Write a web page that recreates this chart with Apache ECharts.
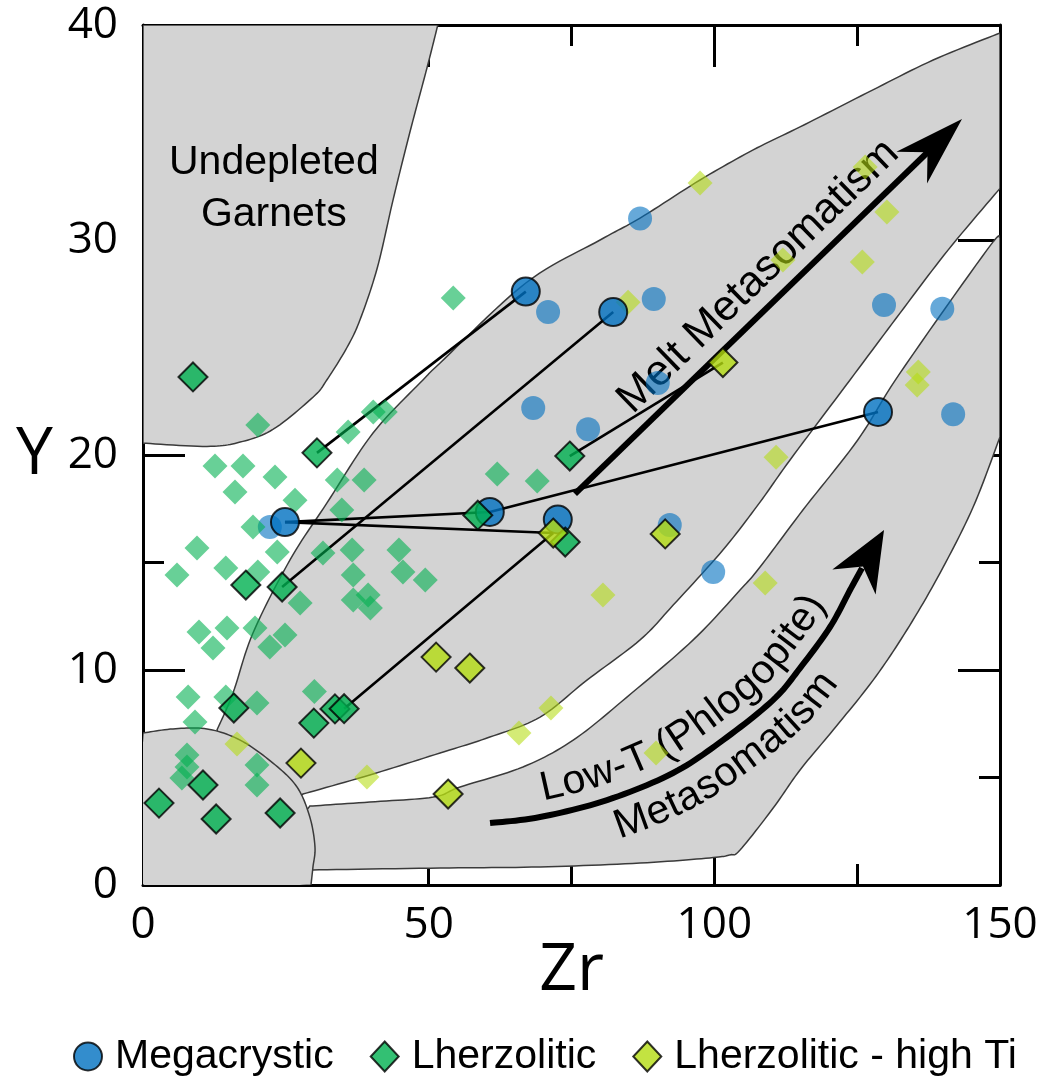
<!DOCTYPE html>
<html>
<head>
<meta charset="utf-8">
<script src="https://cdn.jsdelivr.net/npm/echarts@6.0.0/dist/echarts.min.js"></script>
<style>
html,body{margin:0;padding:0;background:#ffffff;}
#chart{width:1050px;height:1076px;}
</style>
</head>
<body>
<div id="chart"></div>
<script>
// ---------------- DATA (Zr, Y) ----------------
const megaBold = [[67.0,27.6],[82.3,26.65],[24.85,16.88],[60.7,17.35],[72.6,17.0],[128.65,22.0]];
const megaLight = [[87.0,31.0],[70.9,26.65],[89.4,27.26],[68.3,22.19],[77.9,21.2],[90.1,23.35],
  [92.2,16.74],[99.8,14.56],[129.7,26.98],[139.9,26.8],[141.8,21.9],[22.2,16.65]];
const lherzBold = [[8.75,23.63],[30.45,20.1],[74.7,19.95],[58.6,17.2],[73.9,15.95],[18.0,13.95],
  [24.35,13.86],[15.9,8.23],[29.9,7.53],[33.6,8.19],[35.2,8.2],[2.8,3.81],[10.5,4.65],[12.8,3.07],[24.0,3.35]];
const lherzLight = [[54.3,27.3],[20.1,21.4],[12.6,19.49],[17.5,19.49],[23.1,18.98],[16.1,18.28],[26.6,17.9],
  [35.9,21.07],[40.3,22.0],[42.4,22.0],[34.0,18.84],[38.7,18.84],[34.8,17.44],[19.25,16.65],[23.5,15.49],
  [9.45,15.67],[31.5,15.44],[36.6,15.58],[44.8,15.58],[45.5,14.56],[49.4,14.19],[36.8,14.42],[14.5,14.74],
  [5.95,14.42],[20.1,14.56],[27.5,13.12],[36.8,13.26],[39.4,13.49],[39.8,12.88],[9.8,11.77],[14.7,11.95],
  [12.25,11.02],[19.6,11.95],[22.2,11.07],[24.85,11.63],[30.0,9.0],[7.9,8.74],[14.5,8.74],[19.95,8.47],
  [9.1,7.58],[7.7,6.05],[7.7,5.49],[6.8,4.98],[19.95,5.58],[19.95,4.65],[62.0,19.12],[69.0,18.79]];
const hiTiBold = [[101.5,24.3],[71.8,16.37],[91.4,16.33],[51.3,10.6],[57.2,10.09],[27.65,5.67],[53.4,4.23]];
const hiTiLight = [[97.5,32.65],[84.9,27.1],[126.4,33.4],[130.2,31.3],[112.0,29.07],[125.9,28.98],
  [135.7,23.86],[135.5,23.26],[110.8,19.9],[108.9,14.05],[80.5,13.49],[71.4,8.23],[65.8,7.07],
  [89.8,6.14],[16.45,6.56],[39.2,5.02]];

// tie lines: pairs of [set, index]
const tieLines = [
  [['mega',0],['lherz',1]], [['mega',1],['lherz',6]], [['mega',2],['mega',3]],
  [['mega',2],['hiTi',1]], [['mega',3],['mega',5]], [['hiTi',1],['lherz',10]], [['lherz',2],['hiTi',0]]
];

// field outlines (data space); each piece with >2 points is drawn as a smooth curve
const fieldUndepleted = [
  [[0,40],[51.6,40]],
  [[51.6,40],[49.7,38.0],[46.7,35.0],[43.8,31.9],[41.0,28.7],[38.0,26.3],[35.7,25.0],[32.2,23.5],
   [29.8,22.7],[22.8,21.2],[17.0,20.6],[11.2,20.4],[0,20.55]]
];
const fieldMelt = [
  [[12.95,7.21],[15.75,8.93],[19.25,11.72],[25.73,15.12],[32.2,17.77],[40.26,21.02],[49.0,23.49],
   [52.0,24.28],[67.0,28.0],[80.0,30.0],[87.0,31.02],[97.5,32.79],[106.8,34.19],[115.0,35.26],
   [126.7,36.84],[138.3,38.37],[150,39.63]],
  [[150,39.63],[150,32.4]],
  [[150,32.4],[140.9,29.53],[132.5,26.6],[123.75,23.49],[113.25,19.77],[108.0,17.81],[101.5,15.58],
   [92.8,13.02],[87.0,11.4],[77.7,9.53],[69.5,7.81],[60.7,6.88],[52.0,6.14],[39.7,5.12],[28.0,4.23]],
  [[28.0,4.23],[20,3],[12.95,7.21]]
];
const fieldPhlogopite = [
  [[150,30.14],[147.7,29.53],[132.5,23.81],[125.1,20.7],[115.5,17.44],[108.0,14.79],[104.5,13.72],
   [96.3,11.4],[84.7,8.74],[75.3,6.74],[66.5,5.49],[55.5,4.56],[50.8,4.09],[39.7,3.86],[29.2,3.67]],
  [[29.2,3.67],[25,2.0],[29.75,0.70]],
  [[29.75,0.70],[52.0,0.79],[69.5,0.84],[87.0,1.02],[99.2,1.26],[102.7,1.4],[104.5,1.63],[110.3,3.58],
   [115.0,5.35],[120.8,7.21],[127.8,9.53],[133.7,11.86],[139.5,14.51],[145.3,17.58],[150,20.84]],
  [[150,20.84],[150,30.14]]
];
const fieldLowLeft = [
  [[0,7.07],[5.25,7.26],[11.2,7.26],[17.0,6.74],[22.75,5.67],[26.95,4.56],[29.2,3.16],[30.1,1.77],
   [29.75,0.84],[29.4,0]],
  [[29.4,0],[0,0],[0,7.07]]
];
const fields = [fieldUndepleted, fieldMelt, fieldPhlogopite, fieldLowLeft];

// trend arrows (data space); last point is the arrow tip
const meltArrow = [[75.6,18.19],[143.35,35.63]];
const lowTArrow = [[60.74,2.88],[69.49,3.16],[81.22,3.95],[92.77,5.21],[101.52,6.74],[110.27,8.60],
  [115.0,10.09],[120.25,12.0],[123.75,13.72],[125.85,14.74],[129.7,16.51]];

// labels
const undepletedLabel = { text: 'Undepleted\nGarnets', at: [22.9, 32.4] };
const meltLabel = { text: 'Melt Metasomatism', at: [107.7, 28.3] };
const lowTLabelUpper = 'Low-T (Phlogopite)';
const lowTLabelLower = 'Metasomatism';
const legendNames = ['Megacrystic', 'Lherzolitic', 'Lherzolitic - high Ti'];

// ---------------- STYLE ----------------
const SANS = '"Liberation Sans", Arial, sans-serif';
const NUM = '"Open Sans", sans-serif';
const ANN_SIZE = 41;
const FIELD_FILL = '#d3d3d3';
const FIELD_STROKE = '#3a3a3a';
const BLUE = '#0070c0', GREEN = '#00b050', LIME = '#b4dc12';

// ---------------- HELPERS ----------------
function spline(p, n) {
  if (p.length < 3) return p.slice();
  const out = [];
  for (let i = 0; i < p.length - 1; i++) {
    const p0 = p[Math.max(i - 1, 0)], p1 = p[i], p2 = p[i + 1], p3 = p[Math.min(i + 2, p.length - 1)];
    for (let k = 0; k < n; k++) {
      const t = k / n, t2 = t * t, t3 = t2 * t;
      const f = (a, b, c, d) => 0.5 * (2 * b + (-a + c) * t + (2 * a - 5 * b + 4 * c - d) * t2 + (-a + 3 * b - 3 * c + d) * t3);
      out.push([f(p0[0], p1[0], p2[0], p3[0]), f(p0[1], p1[1], p2[1], p3[1])]);
    }
  }
  out.push(p[p.length - 1]);
  return out;
}
function outline(pieces, api) {
  const out = [];
  pieces.forEach(pc => spline(pc.map(q => api.coord(q)), 12).forEach(q => out.push(q)));
  return out;
}
function cumLen(pts) {
  const c = [0];
  for (let i = 1; i < pts.length; i++) c.push(c[i - 1] + Math.hypot(pts[i][0] - pts[i - 1][0], pts[i][1] - pts[i - 1][1]));
  return c;
}
function pointAt(pts, cum, s) {
  let i = 0;
  while (i < pts.length - 2 && cum[i + 1] < s) i++;
  const seg = cum[i + 1] - cum[i] || 1;
  const t = (s - cum[i]) / seg;
  const dx = pts[i + 1][0] - pts[i][0], dy = pts[i + 1][1] - pts[i][1];
  const L = Math.hypot(dx, dy) || 1;
  return { x: pts[i][0] + dx * t, y: pts[i][1] + dy * t, tx: dx / L, ty: dy / L };
}
function offsetPath(pts, d) {
  return pts.map((p, i) => {
    const a = pts[Math.max(i - 1, 0)], b = pts[Math.min(i + 1, pts.length - 1)];
    const dx = b[0] - a[0], dy = b[1] - a[1], L = Math.hypot(dx, dy) || 1;
    return [p[0] + d * dy / L, p[1] - d * dx / L];
  });
}
const measureCtx = document.createElement('canvas').getContext('2d');
function textOnPath(str, pts, s0, size) {
  measureCtx.font = size + 'px ' + SANS;
  const cum = cumLen(pts);
  const els = [];
  let s = s0;
  for (const ch of str) {
    const w = measureCtx.measureText(ch).width;
    const p = pointAt(pts, cum, s + w / 2);
    els.push({ type: 'text', x: p.x, y: p.y, rotation: Math.atan2(-p.ty, p.tx),
      style: { text: ch, fontSize: size, fontFamily: SANS, fill: '#000', align: 'center', verticalAlign: 'middle' } });
    s += w;
  }
  return els;
}
function arrowHead(tip, dir, L, W, notch) {
  const nx = -dir[1], ny = dir[0];
  const bx = tip[0] - dir[0] * L, by = tip[1] - dir[1] * L;
  return [tip, [bx + nx * W, by + ny * W], [tip[0] - dir[0] * notch, tip[1] - dir[1] * notch], [bx - nx * W, by - ny * W]];
}
function unit(a, b) { const dx = b[0] - a[0], dy = b[1] - a[1], L = Math.hypot(dx, dy); return [dx / L, dy / L]; }

// ---------------- CHART ----------------
const chart = echarts.init(document.getElementById('chart'), null, { renderer: 'canvas' });

const xCommon = {
  type: 'value', min: 0, max: 150, interval: 50,
  axisLine: { show: true, onZero: false, lineStyle: { color: '#000', width: 3 } },
  axisTick: { show: true, inside: true, length: 42, lineStyle: { color: '#000', width: 3 } },
  minorTick: { show: true, splitNumber: 2, length: 21, lineStyle: { color: '#000', width: 3 } },
  splitLine: { show: false }, minorSplitLine: { show: false }
};
const yCommon = Object.assign({}, xCommon, { min: 0, max: 40, interval: 10 });

const sets = { mega: megaBold, lherz: lherzBold, hiTi: hiTiBold };

const option = {
  animation: false,
  backgroundColor: '#ffffff',
  grid: { left: 143, top: 25, right: 50, bottom: 191, containLabel: false },
  xAxis: [
    Object.assign({}, xCommon, { position: 'bottom',
      axisLabel: { fontSize: 44, fontFamily: NUM, color: '#000', margin: 18 },
      name: 'Zr', nameLocation: 'middle', nameGap: 53, nameMoveOverlap: false,
      nameTextStyle: { fontSize: 66, fontFamily: NUM, color: '#000' } }),
    Object.assign({}, xCommon, { position: 'top', axisLabel: { show: false } })
  ],
  yAxis: [
    Object.assign({}, yCommon, { position: 'left',
      axisLabel: { fontSize: 44, fontFamily: NUM, color: '#000', margin: 25 },
      name: 'Y', nameLocation: 'middle', nameGap: 90, nameRotate: 0, nameMoveOverlap: false,
      nameTextStyle: { fontSize: 66, fontFamily: NUM, color: '#000' } }),
    Object.assign({}, yCommon, { position: 'right', axisLabel: { show: false } })
  ],
  legend: {
    data: legendNames, left: 68, top: 1031, itemWidth: 28, itemHeight: 30, itemGap: 36,
    formatter: name => '{t|' + name + '}',
    textStyle: { fontSize: ANN_SIZE, fontFamily: SANS, color: '#000',
      rich: { t: { fontSize: ANN_SIZE, fontFamily: SANS, color: '#000', padding: [0, 0, 0, 8] } } },
    selectedMode: false
  },
  series: [
    { type: 'custom', name: 'fields', silent: true, clip: true, data: [[0]],
      renderItem: (params, api) => ({ type: 'group', children: fields.map(f => ({
        type: 'polygon', shape: { points: outline(f, api) },
        style: { fill: FIELD_FILL, stroke: FIELD_STROKE, lineWidth: 1.5 } })) }) },
    { type: 'custom', name: 'annotations', silent: true, data: [[0]],
      renderItem: (params, api) => {
        const children = [];
        const u = api.coord(undepletedLabel.at);
        children.push({ type: 'text', x: u[0], y: u[1], style: { text: undepletedLabel.text, fontSize: ANN_SIZE,
          fontFamily: SANS, fill: '#000', align: 'center', verticalAlign: 'middle', lineHeight: 52 } });
        // melt arrow
        const t0 = api.coord(meltArrow[0]), t1 = api.coord(meltArrow[1]);
        const d = unit(t0, t1);
        children.push({ type: 'line', shape: { x1: t0[0], y1: t0[1], x2: t1[0] - d[0] * 45, y2: t1[1] - d[1] * 45 },
          style: { stroke: '#000', lineWidth: 6 } });
        children.push({ type: 'polygon', shape: { points: arrowHead(t1, d, 70, 22, 48) }, style: { fill: '#000' } });
        const m = api.coord(meltLabel.at);
        children.push({ type: 'text', x: m[0], y: m[1], rotation: Math.atan2(-d[1], d[0]),
          style: { text: meltLabel.text, fontSize: 43, fontFamily: SANS, fill: '#000', align: 'center', verticalAlign: 'middle' } });
        // low-T arrow
        const lp = lowTArrow.map(q => api.coord(q));
        const shaft = spline(lp.slice(0, -1), 12);
        const tip = lp[lp.length - 1];
        const d2 = unit(shaft[shaft.length - 1], tip);
        children.push({ type: 'polyline', shape: { points: shaft }, style: { stroke: '#000', lineWidth: 6, fill: null } });
        children.push({ type: 'polygon', shape: { points: arrowHead(tip, d2, 60, 25, 42) }, style: { fill: '#000' } });
        textOnPath(lowTLabelUpper, offsetPath(shaft, 27), 54, ANN_SIZE).forEach(e => children.push(e));
        textOnPath(lowTLabelLower, offsetPath(shaft, -29), 125, ANN_SIZE).forEach(e => children.push(e));
        return { type: 'group', children };
      } },
    { type: 'scatter', name: 'Megacrystic (other)', data: megaLight, symbol: 'circle', symbolSize: 24, silent: true,
      itemStyle: { color: 'rgba(0,112,192,0.75)' } },
    { type: 'scatter', name: 'Lherzolitic (other)', data: lherzLight, symbol: 'diamond', symbolSize: 25, silent: true,
      itemStyle: { color: 'rgba(0,176,80,0.74)' } },
    { type: 'scatter', name: 'Lherzolitic - high Ti (other)', data: hiTiLight, symbol: 'diamond', symbolSize: 25, silent: true,
      itemStyle: { color: 'rgba(180,220,18,0.72)' } },
    { type: 'custom', name: 'tie lines', silent: true, data: [[0]],
      renderItem: (params, api) => ({ type: 'group', children: tieLines.map(([a, b]) => {
        const p = api.coord(sets[a[0]][a[1]]), q = api.coord(sets[b[0]][b[1]]);
        return { type: 'line', shape: { x1: p[0], y1: p[1], x2: q[0], y2: q[1] }, style: { stroke: '#000', lineWidth: 2.6 } };
      }) }) },
    { type: 'scatter', name: 'Megacrystic', data: megaBold, symbol: 'circle', symbolSize: 28, silent: true,
      itemStyle: { color: BLUE, borderColor: '#000', borderWidth: 2 } },
    { type: 'scatter', name: 'Lherzolitic', data: lherzBold, symbol: 'diamond', symbolSize: 29, silent: true,
      itemStyle: { color: GREEN, borderColor: '#000', borderWidth: 2 } },
    { type: 'scatter', name: 'Lherzolitic - high Ti', data: hiTiBold, symbol: 'diamond', symbolSize: 29, silent: true,
      itemStyle: { color: LIME, borderColor: '#000', borderWidth: 2 } }
  ]
};
chart.setOption(option);
</script>
</body>
</html>
